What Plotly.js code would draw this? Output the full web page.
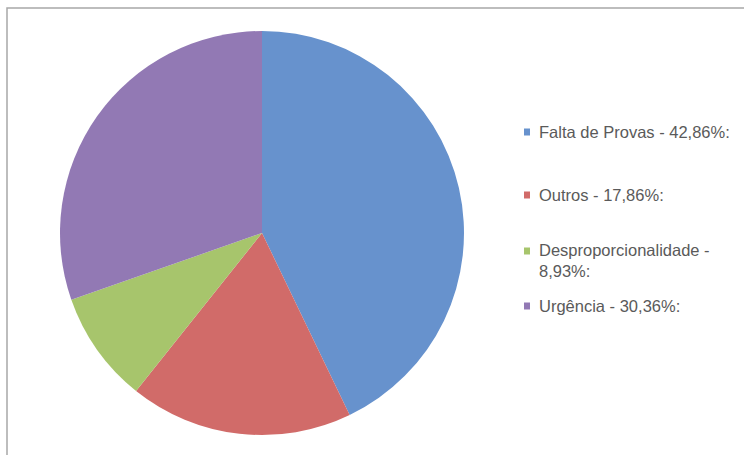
<!DOCTYPE html>
<html>
<head>
<meta charset="utf-8">
<script src="https://cdn.plot.ly/plotly-3.0.1.min.js"></script>
<style>html,body{margin:0;padding:0;background:#fff;}#chart{width:744px;height:455px;}</style>
</head>
<body>
<div id="chart"></div>
<script>
const categories = ["Falta de Provas", "Outros", "Desproporcionalidade", "Urgência"];
const values = [42.86, 17.86, 8.93, 30.36];
const legendTexts = ["Falta de Provas - 42,86%:", "Outros - 17,86%:", "Desproporcionalidade -<br>8,93%:", "Urgência - 30,36%:"];
const colors = ["#6792CD", "#D16B69", "#A7C56C", "#9279B4"];

const W = 744, H = 455;
const legendY = [132, 195, 251, 306];   // pixel rows of legend entries (first line)
const px = x => x / W;
const py = y => 1 - y / H;

const trace = {
  type: "pie",
  labels: categories,
  values: values,
  sort: false,
  direction: "clockwise",
  rotation: 0,
  textinfo: "none",
  hoverinfo: "label+percent",
  marker: {colors: colors, line: {width: 0}},
  domain: {x: [px(60), px(464)], y: [py(435), py(31)]},
  showlegend: false
};

const FS = 16.5;
const annotations = legendTexts.map((t, i) => ({
  xref: "paper", yref: "paper",
  x: px(537), y: py(legendY[i]),
  xanchor: "left", yanchor: i === 2 ? "top" : "middle",
  yshift: i === 2 ? 12 : 0,
  align: "left",
  text: t,
  showarrow: false,
  font: {family: "Liberation Sans, Arial, sans-serif", size: FS, color: "#5a5a5a"}
}));

const shapes = [{
  type: "rect", xref: "paper", yref: "paper",
  x0: px(7), x1: px(760), y0: py(470), y1: py(8),
  line: {color: "#a8a8a8", width: 1.5}, fillcolor: "rgba(0,0,0,0)", layer: "below"
}].concat(colors.map((c, i) => ({
  type: "rect", xref: "paper", yref: "paper",
  x0: px(524), x1: px(530), y0: py(legendY[i] + 3.5), y1: py(legendY[i] - 3.5),
  line: {width: 0}, fillcolor: c
})));

const layout = {
  width: W, height: H,
  margin: {l: 0, r: 0, t: 0, b: 0},
  paper_bgcolor: "#ffffff",
  showlegend: false,
  annotations: annotations,
  shapes: shapes
};

Plotly.newPlot("chart", [trace], layout, {displayModeBar: false, staticPlot: true});
</script>
</body>
</html>
